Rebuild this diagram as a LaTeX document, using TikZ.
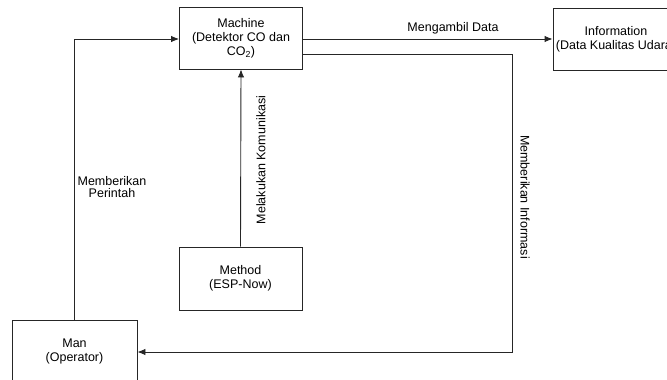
\documentclass[tikz,border=0pt]{standalone}
\usepackage{fontspec}
\setmainfont{Liberation Sans}
\usetikzlibrary{arrows.meta}
\begin{document}
\begin{tikzpicture}[x=1pt,y=-1pt,
  box/.style={draw=black!85,line width=0.9pt,fill=white,minimum width=123pt,minimum height=62pt,align=center,inner sep=0pt,font=\fontsize{12.5}{14}\selectfont},
  lbl/.style={align=center,inner sep=0pt,font=\fontsize{12.5}{12.5}\selectfont},
  arr/.style={draw=black!85,line width=0.9pt,-{Latex[length=8pt,width=6.5pt]}}]
\useasboundingbox (0,0) rectangle (667,380);
\clip (0,0) rectangle (667,380);
\node[box] (machine) at (241,38) {Machine\\(Detektor CO dan\\CO\textsubscript{2})};
\node[box,minimum width=126pt] (info) at (616,39) {Information\\(Data Kualitas Udara)};
\node[box,minimum width=125pt] (man) at (74.5,351) {Man\\(Operator)};
\node[box,minimum height=63pt] (method) at (240.5,278.5) {Method\\(ESP-Now)};
\coordinate (turn) at (512,352);
\draw[arr] (man.north) |- ([yshift=-1pt]machine.west);
\draw[arr] (method.north) -- (machine.south);
\draw[arr] (machine.east |- info.west) -- (info.west);
\draw[arr] ([yshift=-16pt]machine.east) -| (turn) -- (man.east |- turn);
\node[lbl] (l1) at (112,187) {Memberikan\\Perintah};
\node[lbl,rotate=90] (l2) at (261,160) {Melakukan Komunikasi};
\node[lbl,rotate=-90] (l3) at (525,197) {Memberikan Informasi};
\node[lbl] (l4) at (453,28) {Mengambil Data};
\end{tikzpicture}
\end{document}
